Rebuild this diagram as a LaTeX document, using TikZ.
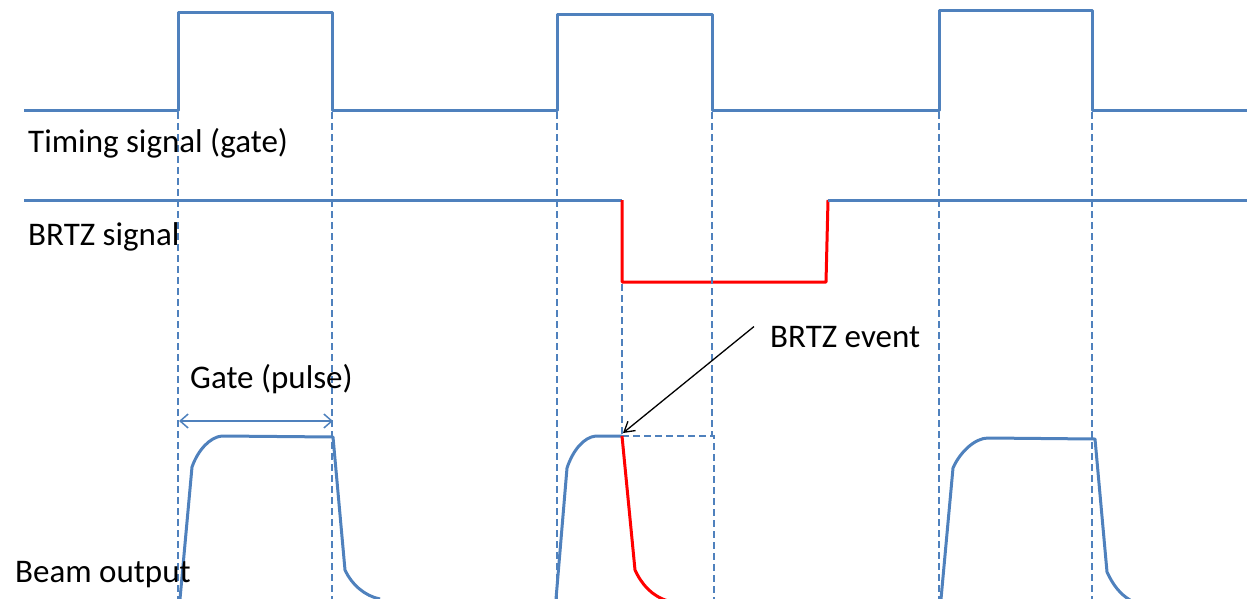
\documentclass[tikz,border=0pt]{standalone}
\usepackage{fontspec}
\setmainfont{Carlito}
\usetikzlibrary{arrows.meta}
\definecolor{sigblue}{HTML}{4F81BD}
\definecolor{sigred}{HTML}{FF0000}
\begin{document}
\begin{tikzpicture}[x=1pt,y=-1pt,
  wave/.style={draw=sigblue,line width=3pt,line join=round},
  fault/.style={draw=sigred,line width=3pt,line join=round},
  guide/.style={draw=sigblue,line width=1.5pt,dash pattern=on 7pt off 4pt},
  lbl/.style={anchor=base west,inner sep=0pt,font=\fontsize{33}{38}\selectfont}]
\useasboundingbox (0,0) rectangle (1249,599);

% timing signal (gate)
\draw[wave] (24,111) -- (178,111) -- (178,13) -- (332,13) -- (332,111)
  -- (557,111) -- (557,15) -- (712,15) -- (712,111)
  -- (939,111) -- (939,11) -- (1092,11) -- (1092,111) -- (1247,111);

% BRTZ signal
\draw[wave] (24,200) -- (622,200);
\draw[fault] (622,200) -- (622,282) -- (826,282) -- (828,200);
\draw[wave] (828,200) -- (1247,200);

% gate edges
\foreach \gx in {178,332,557,939,1092}
  \draw[guide] (\gx,112) -- (\gx,599);
\draw[guide] (712,112) -- (712,436);
\draw[guide] (622,284) -- (622,436);

% beam output, pulse 1
\draw[wave] (180,599) -- (192,467) .. controls (198,450) and (210,437) .. (222,436)
  -- (333,437) -- (345,570) .. controls (352,585) and (365,596) .. (380,599);
% beam output, pulse 2 (interrupted)
\draw[wave] (556,599) -- (567,468) .. controls (573,450) and (584,437) .. (596,436) -- (622,436);
\draw[guide,line width=2.2pt] (622,436) -- (714,436) -- (714,599);
\draw[fault] (622,436) -- (635,570) .. controls (642,585) and (652,596) .. (668,601);
% beam output, pulse 3
\draw[wave] (941,599) -- (953,468) .. controls (960,452) and (975,438) .. (988,438)
  -- (1095,439) -- (1107,572) .. controls (1113,585) and (1120,594) .. (1130,600);

% labels
\node[lbl] (timing) at (28,152) {Timing signal (gate)};
\node[lbl] (brtz) at (28,245) {BRTZ signal};
\node[lbl] (gate) at (190,388) {Gate (pulse)};
\node[lbl] (event) at (770,347) {BRTZ event};
\node[lbl] (beam) at (15,582) {Beam output};

% gate width marker
\coordinate (gl) at (179,421);
\coordinate (gr) at (333,421);
\draw[draw=sigblue,line width=1.5pt,{Straight Barb[length=8pt,width=14pt]}-{Straight Barb[length=8pt,width=14pt]}] (gl) -- (gr);

% event pointer
\coordinate (hit) at (623,433);
\draw[line width=1.3pt,-{Straight Barb[length=10pt,width=12pt]}] (event.west) ++(-16,-10) -- (hit);
\end{tikzpicture}
\end{document}
